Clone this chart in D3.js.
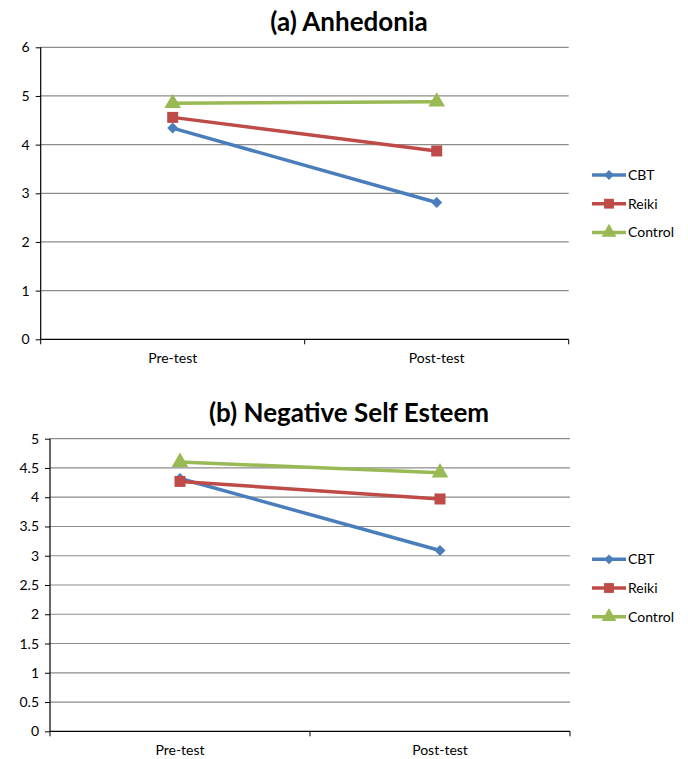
<!DOCTYPE html>
<html>
<head>
<meta charset="utf-8">
<script src="https://cdn.jsdelivr.net/npm/d3@7"></script>
<style>
	body { margin: 0; background: #fff; }
	text { font-family: Lato, "Open Sans", sans-serif; }
</style>
</head>
<body>
<svg id="chart"></svg>
<script>
// DATA

var categories = ["Pre-test", "Post-test"];
var seriesNames = ["CBT", "Reiki", "Control"];

var anhedoniaCBT = [4.34, 2.81];
var anhedoniaReiki = [4.56, 3.87];
var anhedoniaControl = [4.85, 4.88];

var esteemCBT = [4.32, 3.09];
var esteemReiki = [4.27, 3.97];
var esteemControl = [4.60, 4.42];

var anhedoniaTicks = [0, 1, 2, 3, 4, 5, 6];
var esteemTicks = [0, 0.5, 1, 1.5, 2, 2.5, 3, 3.5, 4, 4.5, 5];

// DIMENSIONS

var width = 688,
	height = 759;

var colors = ["#4a7ebb", "#be4b48", "#98b954"];
var symbols = [d3.symbolSquare, d3.symbolSquare, d3.symbolTriangle];
var symbolSizes = [60, 121, 120];
var symbolRotate = [45, 0, 0];

var svg = d3.select("#chart")
	.attr('width', width)
	.attr('height', height);

function drawPanel(opt) {
	var x = d3.scaleBand()
		.domain(categories)
		.range([opt.left, opt.right]);

	var y = d3.scaleLinear()
		.domain([0, d3.max(opt.ticks)])
		.range([opt.bottom, opt.top]);

	var g = svg.append('g');

	// title
	g.append('text')
		.attr('x', 349)
		.attr('y', opt.titleY)
		.attr('text-anchor', 'middle')
		.style('font-size', '26px')
		.style('font-weight', 'bold')
		.text(opt.title);

	// gridlines
	g.selectAll('.grid').data(opt.ticks.slice(1))
		.enter().append('line')
		.attr('x1', opt.left)
		.attr('x2', opt.right)
		.attr('y1', function(d) { return y(d); })
		.attr('y2', function(d) { return y(d); })
		.style('stroke', '#8c8c8c')
		.style('stroke-width', 1.2);

	// y axis
	var yAxis = d3.axisLeft(y)
		.tickValues(opt.ticks)
		.tickSize(5)
		.tickPadding(6)
		.tickFormat(d3.format("~g"));
	var yg = g.append('g')
		.attr('transform', 'translate(' + opt.left + ',0)');
	yAxis(yg);
	yg.select('.domain').remove();
	yg.selectAll('.tick line').style('stroke', '#000');
	yg.selectAll('text')
		.style('font-size', '14px')
		.style('fill', '#000');
	g.append('line')
		.attr('x1', opt.left).attr('x2', opt.left)
		.attr('y1', opt.top).attr('y2', opt.bottom)
		.style('stroke', '#000').style('stroke-width', 1.2);

	// x axis
	g.append('line')
		.attr('x1', opt.left).attr('x2', opt.right)
		.attr('y1', opt.bottom).attr('y2', opt.bottom)
		.style('stroke', '#000').style('stroke-width', 1.2);
	var edges = [opt.left, opt.left + x.bandwidth(), opt.right];
	g.selectAll('.xtick').data(edges)
		.enter().append('line')
		.attr('x1', function(d) { return d; })
		.attr('x2', function(d) { return d; })
		.attr('y1', opt.bottom)
		.attr('y2', opt.bottom + 5)
		.style('stroke', '#000');
	g.selectAll('.xlabel').data(categories)
		.enter().append('text')
		.attr('x', function(d) { return x(d) + x.bandwidth() / 2; })
		.attr('y', opt.bottom + 24)
		.attr('text-anchor', 'middle')
		.style('font-size', '14px')
		.text(function(d) { return d; });

	// series
	var line = d3.line()
		.x(function(d, i) { return x(categories[i]) + x.bandwidth() / 2; })
		.y(function(d) { return y(d); });

	opt.series.forEach(function(vals, s) {
		g.append('path')
			.attr('d', line(vals))
			.style('fill', 'none')
			.style('stroke', colors[s])
			.style('stroke-width', 3.5);
	});
	opt.series.forEach(function(vals, s) {
		g.selectAll('.pt' + s).data(vals)
			.enter().append('path')
			.attr('d', d3.symbol().type(symbols[s]).size(symbolSizes[s]))
			.attr('transform', function(d, i) {
				return 'translate(' + (x(categories[i]) + x.bandwidth() / 2) + ',' + y(d) + ') rotate(' + symbolRotate[s] + ')';
			})
			.style('fill', colors[s]);
	});

	// legend
	var lg = g.selectAll('.legend').data(seriesNames)
		.enter().append('g')
		.attr('transform', function(d, i) {
			return 'translate(592,' + (opt.legendY + i * 28.7) + ')';
		});
	lg.append('line')
		.attr('x1', 0).attr('x2', 34)
		.style('stroke', function(d, i) { return colors[i]; })
		.style('stroke-width', 3.5);
	lg.append('path')
		.attr('d', function(d, i) { return d3.symbol().type(symbols[i]).size(symbolSizes[i] * 0.8)(); })
		.attr('transform', function(d, i) { return 'translate(17,0) rotate(' + symbolRotate[i] + ')'; })
		.style('fill', function(d, i) { return colors[i]; });
	lg.append('text')
		.attr('x', 36)
		.attr('y', 5)
		.style('font-size', '14px')
		.text(function(d) { return d; });
}

drawPanel({
	title: "(a) Anhedonia",
	titleY: 31,
	left: 40.7, right: 568.7, top: 47.3, bottom: 339.3,
	ticks: anhedoniaTicks,
	series: [anhedoniaCBT, anhedoniaReiki, anhedoniaControl],
	legendY: 175
});

drawPanel({
	title: "(b) Negative Self Esteem",
	titleY: 422,
	left: 50, right: 570, top: 438.7, bottom: 731.3,
	ticks: esteemTicks,
	series: [esteemCBT, esteemReiki, esteemControl],
	legendY: 559.3
});
</script>
</body>
</html>
